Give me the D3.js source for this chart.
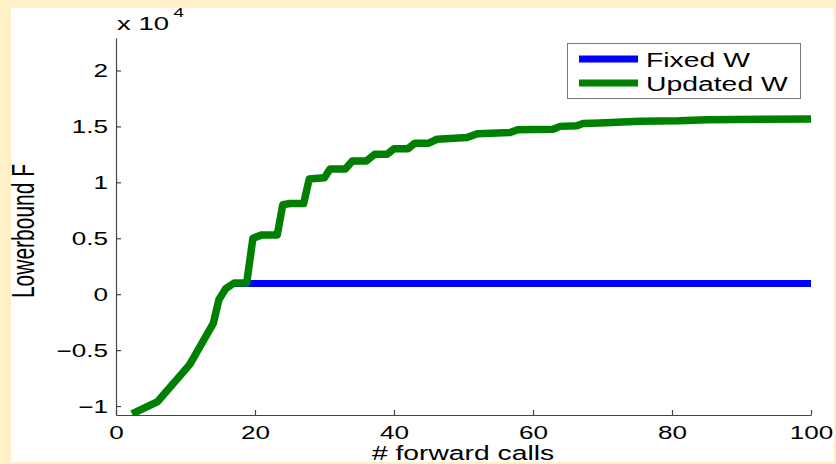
<!DOCTYPE html>
<html>
<head>
<meta charset="utf-8">
<script src="https://cdn.jsdelivr.net/npm/d3@7"></script>
<style>
  body { margin: 0; background: #fff0c8; }
  text { font-family: "Liberation Sans", Arial, sans-serif; fill: #000; }
</style>
</head>
<body>
<div class="chart-container"></div>
<script>
var width = 836;
var height = 464;

// data (values in units of 10^4)
var fixedCalls = [17, 100];
var fixedW = [0.095, 0.095];

var updatedCalls = [2.3, 6, 10.6, 14, 14.8, 15.8, 17, 18.8, 19.7, 21, 23.2, 24, 25, 27,
  27.8, 30, 30.8, 33, 34, 36, 37.2, 39, 40, 42, 43, 45, 46.2, 50.5, 52, 56.7, 57.8,
  62.9, 63.9, 66.3, 67.2, 69.6, 75.4, 81, 85, 100];
var updatedW = [-1.07, -0.96, -0.63, -0.26, -0.05, 0.05, 0.1, 0.1, 0.5, 0.53, 0.53, 0.8, 0.81, 0.81,
  1.03, 1.04, 1.12, 1.12, 1.19, 1.19, 1.25, 1.25, 1.3, 1.3, 1.35, 1.35, 1.385, 1.4, 1.435, 1.445, 1.47,
  1.475, 1.5, 1.505, 1.525, 1.53, 1.545, 1.55, 1.56, 1.565];

var seriesNames = ["Fixed W", "Updated W"];
var seriesColors = ["#0000ff", "#008000"];

var xTicks = [0, 20, 40, 60, 80, 100];
var yTicks = [-1, -0.5, 0, 0.5, 1, 1.5, 2];

var sx = 1.45; // the original picture is stretched horizontally

var svg = d3.select(".chart-container")
  .append("svg")
  .attr("width", width)
  .attr("height", height)
  .style("display", "block");

svg.append("rect")
  .attr("width", width).attr("height", height)
  .attr("fill", "#fff0c8");

svg.append("rect")
  .attr("x", 11).attr("y", 8)
  .attr("width", 823).attr("height", 454)
  .attr("fill", "#ffffff");

var x = d3.scaleLinear().domain([0, 100]).range([116, 811]);
var y = d3.scaleLinear().domain([-1.08, 2.29]).range([415, 38]);

// lines
var line = d3.line()
  .x(function(d) { return x(d[0]); })
  .y(function(d) { return y(d[1]); });

svg.append("clipPath").attr("id", "plot-clip")
  .append("rect")
  .attr("x", 116).attr("y", 38)
  .attr("width", 720).attr("height", 377);

var plot = svg.append("g").attr("clip-path", "url(#plot-clip)");

plot.append("path")
  .datum(d3.zip(fixedCalls, fixedW))
  .attr("fill", "none")
  .attr("stroke", seriesColors[0])
  .attr("stroke-width", 7)
  .attr("d", line);

plot.append("path")
  .datum(d3.zip(updatedCalls, updatedW))
  .attr("fill", "none")
  .attr("stroke", seriesColors[1])
  .attr("stroke-width", 7.5)
  .attr("stroke-linejoin", "round")
  .attr("d", line);

// axes
var xAxis = svg.append("g")
  .attr("transform", "translate(0,415)")
  .call(d3.axisBottom(x).tickValues(xTicks).tickSizeInner(-5).tickSizeOuter(0));

var yAxis = svg.append("g")
  .attr("transform", "translate(116,0)")
  .call(d3.axisLeft(y).tickValues(yTicks).tickSizeInner(-5).tickSizeOuter(0)
    .tickFormat(function(d) { return (d < 0 ? "\u2212" : "") + Math.abs(d); }));

[xAxis, yAxis].forEach(function(ax) {
  ax.select(".domain").attr("stroke", "#444").attr("stroke-width", 1.2);
  ax.selectAll(".tick line").attr("stroke", "#444").attr("stroke-width", 1.2);
  ax.selectAll(".tick text")
    .style("font-family", "Liberation Sans, Arial, sans-serif")
    .style("font-size", "18px")
    .attr("fill", "#000");
});

xAxis.selectAll(".tick text")
  .attr("y", 0)
  .attr("dy", 0)
  .attr("transform", "translate(0,24) scale(" + sx + ",1)");

yAxis.selectAll(".tick text")
  .attr("x", 0)
  .attr("dy", "0.35em")
  .attr("transform", "translate(-8,0) scale(" + sx + ",1)");

// exponent label
var expo = svg.append("text")
  .attr("transform", "translate(117,30) scale(" + sx + ",1)")
  .style("font-size", "19px")
  .text("x 10");
expo.append("tspan")
  .attr("dy", -13)
  .attr("dx", 3)
  .style("font-size", "13px")
  .text("4");

// axis titles
svg.append("text")
  .attr("transform", "translate(463,460) scale(" + sx + ",1)")
  .attr("text-anchor", "middle")
  .style("font-size", "19.5px")
  .text("# forward calls");

svg.append("text")
  .attr("transform", "translate(34,231) rotate(-90) scale(1," + sx + ")")
  .attr("text-anchor", "middle")
  .style("font-size", "21px")
  .text("Lowerbound F");

// legend
var legend = svg.append("g");
legend.append("rect")
  .attr("x", 567.5).attr("y", 43.5)
  .attr("width", 233).attr("height", 55)
  .attr("fill", "#fff")
  .attr("stroke", "#777")
  .attr("stroke-width", 1);

var legendItem = legend.selectAll(".legend-item")
  .data(seriesNames)
  .enter().append("g")
  .attr("class", "legend-item")
  .attr("transform", function(d, i) { return "translate(0," + (59 + i * 24) + ")"; });

legendItem.append("line")
  .attr("x1", 579).attr("x2", 638)
  .attr("stroke", function(d, i) { return seriesColors[i]; })
  .attr("stroke-width", 7);

legendItem.append("text")
  .attr("transform", "translate(646,8) scale(1.35,1)")
  .style("font-size", "21px")
  .text(function(d) { return d; });
</script>
</body>
</html>
